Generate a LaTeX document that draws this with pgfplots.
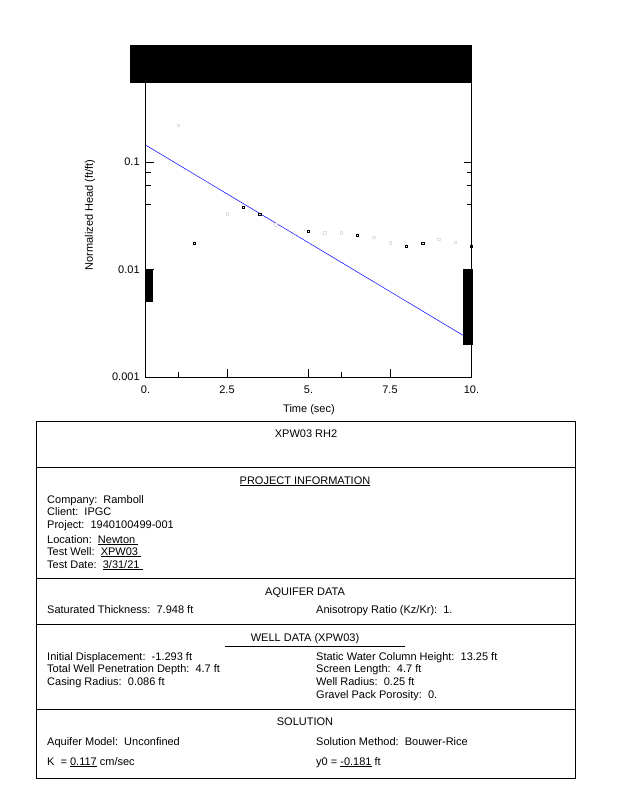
\documentclass[border=0pt]{standalone}
\usepackage{fontspec}
\setmainfont{Liberation Sans}
\usepackage{pgfplots}
\pgfplotsset{compat=1.18}
\begin{document}
\fontsize{11}{13}\selectfont
\begin{tikzpicture}
\path[use as bounding box] (0,0) rectangle (618pt,-800pt);
\begin{axis}[
  at={(145.5pt,-377pt)}, anchor=south west,
  scale only axis, width=326pt, height=322.5pt,
  xmin=0, xmax=10, ymode=log, ymin=0.001, ymax=1,
  xtick={0,2.5,5,7.5,10}, xticklabels={0.,2.5,5.,7.5,10.},
  minor xtick={1,6},
  ytick={0.001,0.01,0.1}, yticklabels={0.001,0.01,0.1},
  minor ytick={0.04,0.06,0.08},
  tick align=inside,
  major tick length=8pt, minor tick length=5pt,
  ticklabel style={font=\fontsize{11}{13}\selectfont},
  xticklabel style={yshift=-5pt},
  yticklabel style={xshift=-2pt},
  /pgf/number format/assume math mode=true,
  axis line style={line width=0.8pt},
  every tick/.style={black, line width=0.8pt},
  clip=false,
]
% fitted straight line
\addplot[blue, line width=0.5pt] coordinates {(0,0.144) (10,0.00219)};
% faint observations
\addplot[only marks, mark=square, mark size=1.2pt, black!12, line width=0.5pt] coordinates {
  (1.0,0.22) (2.5,0.033) (4.0,0.026) (5.5,0.022) (6.0,0.022)
  (7.0,0.0199) (7.5,0.0178) (9.0,0.019) (9.5,0.018)
};
% observations
\addplot[only marks, mark=square, mark size=1.2pt, black, line width=0.5pt] coordinates {
  (1.5,0.0175) (3.0,0.0378) (3.5,0.0325) (5.0,0.0226)
  (6.5,0.0207) (8.0,0.0164) (8.5,0.0175) (10.0,0.0164)
};
\end{axis}
% redaction blocks
\fill (130pt,-45pt) rectangle (472pt,-83pt);
\fill (146pt,-269pt) rectangle (153pt,-302pt);
\fill (463pt,-269pt) rectangle (473pt,-345pt);
\begin{scope}[x=1pt,y=-1pt]
\node[rotate=90] at (90,215) {Normalized Head (ft/ft)};
\node at (309,410) {Time (sec)};
\draw[line width=0.8pt] (36,421) rectangle (575,778);
\draw[line width=0.8pt] (36,467) -- (575,467);
\draw[line width=0.8pt] (36,578) -- (575,578);
\draw[line width=0.8pt] (36,624) -- (575,624);
\draw[line width=0.8pt] (36,709) -- (575,709);
\begin{scope}[every node/.style={anchor=base west, inner sep=0pt}]
\node[anchor=base] at (306,437) {XPW03 RH2};
\node[anchor=base] at (305,484) {\underline{PROJECT INFORMATION}};
\node at (47,503) {Company:\ \ Ramboll};
\node at (47,515) {Client:\ \ IPGC};
\node at (47,528) {Project:\ \ 1940100499-001};
\node at (47,543) {Location:\ \ \underline{Newton\ }};
\node at (47,555) {Test Well:\ \ \underline{XPW03\ }};
\node at (47,568) {Test Date:\ \ \underline{3/31/21\ }};
\node[anchor=base] at (305,595) {AQUIFER DATA};
\node at (47,613) {Saturated Thickness:\ \ 7.948 ft};
\node at (316,613) {Anisotropy Ratio (Kz/Kr):\ \ 1.};
\node[anchor=base] at (305,641) {WELL DATA (XPW03)};
\node at (47,660) {Initial Displacement:\ \ -1.293 ft};
\node at (47,672) {Total Well Penetration Depth:\ \ 4.7 ft};
\node at (47,685) {Casing Radius:\ \ 0.086 ft};
\node at (316,660) {Static Water Column Height:\ \ 13.25 ft};
\node at (316,672) {Screen Length:\ \ 4.7 ft};
\node at (316,685) {Well Radius:\ \ 0.25 ft};
\node at (316,698) {Gravel Pack Porosity:\ \ 0.};
\node[anchor=base] at (305,725) {SOLUTION};
\node at (47,745) {Aquifer Model:\ \ Unconfined};
\node at (316,745) {Solution Method:\ \ Bouwer-Rice};
\node at (47,765) {K\ \ = \underline{0.117} cm/sec};
\node at (316,765) {y0 = \underline{-0.181} ft};
\end{scope}
\draw[line width=0.6pt] (225,646) -- (405,646);
\end{scope}
\end{tikzpicture}
\end{document}
